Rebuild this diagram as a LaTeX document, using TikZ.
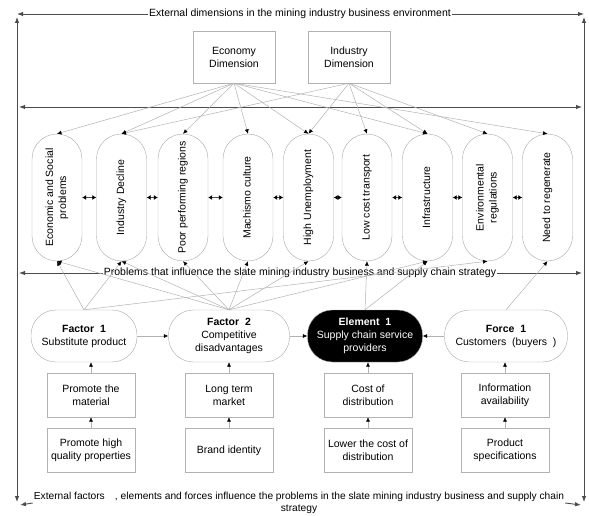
\documentclass[tikz,border=0pt]{standalone}
\usepackage{fontspec}
\setmainfont{Liberation Sans}
\usepackage{tikz}
\usetikzlibrary{arrows.meta,%
                shapes,positioning}

\newcommand{\vtext}[1]{\rotatebox{90}{\begin{tabular}{@{}c@{}}#1\end{tabular}}}

\begin{document}
\begin{tikzpicture}[x=1pt,y=-1pt,
  font=\fontsize{10.5}{13}\selectfont,
  frame/.style={draw=black!70, line width=0.9pt},
  tip/.style={-{Latex[length=6pt,width=4.5pt]}},
  twotip/.style={{Latex[length=6pt,width=4.5pt]}-{Latex[length=6pt,width=4.5pt]}},
  link/.style={draw=black!30, line width=0.5pt, -{Latex[length=4.5pt,width=4pt,color=black]}},
  bothway/.style={draw=black!70, line width=0.8pt, {Latex[length=4pt,width=5pt,color=black]}-{Latex[length=4pt,width=5pt,color=black]}},
  dimbox/.style={draw=black!30, minimum width=82pt, minimum height=52pt, align=center, inner sep=1pt},
  problem/.style={draw=black!35, rounded corners=25pt, minimum width=50pt, minimum height=127pt, inner sep=1pt},
  factor/.style={draw=black!35, rounded corners=25pt, minimum height=52pt, align=center, inner sep=1pt},
  subbox/.style={draw=black!30, minimum width=88pt, minimum height=44pt, align=center, inner sep=1pt}
]
\useasboundingbox (0,0) rectangle (589,516);

\coordinate (tl) at (17,14);
\coordinate (tr) at (584,14);
\coordinate (lt) at (17,17);
\coordinate (lb) at (17,502);
\coordinate (rt) at (584,17);
\coordinate (rb) at (584,502);
\coordinate (ml) at (19,107);
\coordinate (mr) at (582,107);
\coordinate (pl) at (19,273);
\coordinate (pr) at (582,273);
\coordinate (bl) at (20,505);
\coordinate (br) at (581,505);

\node[inner sep=1pt] (toplabel) at (300,14) {External dimensions in the mining industry business environment};
\node[inner sep=1pt] (problabel) at (300,273) {Problems that influence the slate mining industry business and supply chain strategy};
\node[inner sep=1pt, align=center, font=\fontsize{10.2}{12}\selectfont] (botlabel) at (299,503) {External factors\hspace{1em}, elements and forces influence the problems in the slate mining industry business and supply chain\\strategy};

\draw[frame,tip] (toplabel.west) -- (tl);
\draw[frame,tip] (toplabel.east) -- (tr);
\draw[frame,twotip] (lt) -- (lb);
\draw[frame,twotip] (rt) -- (rb);
\draw[frame,twotip] (ml) -- (mr);
\draw[frame,tip] (problabel.west) -- (pl);
\draw[frame,tip] (problabel.east) -- (pr);
\draw[frame,tip] (botlabel.west) -- (bl);
\draw[frame,tip] (botlabel.east) -- (br);

\node[dimbox] (econ) at (234,57) {Economy\\Dimension};
\node[dimbox] (indus) at (349,57) {Industry\\Dimension};

\node[problem] (p1) at (57,197.5) {\vtext{Economic and Social\\problems}};
\node[problem] (p2) at (121.5,197.5) {\vtext{Industry Decline}};
\node[problem] (p3) at (183,197.5) {\vtext{Poor performing regions}};
\node[problem] (p4) at (248,197.5) {\vtext{Machismo culture}};
\node[problem] (p5) at (308.5,197.5) {\vtext{High Unemployment}};
\node[problem] (p6) at (367,197.5) {\vtext{Low cost transport}};
\node[problem] (p7) at (427.5,197.5) {\vtext{Infrastructure}};
\node[problem] (p8) at (487.5,197.5) {\vtext{Environmental\\regulations}};
\node[problem] (p9) at (547.5,197.5) {\vtext{Need to regenerate}};

\draw[bothway] (p1.east) -- (p2.west);
\draw[bothway] (p2.east) -- (p3.west);
\draw[bothway] (p3.east) -- (p4.west);
\draw[bothway] (p4.east) -- (p5.west);
\draw[bothway] (p5.east) -- (p6.west);
\draw[bothway] (p6.east) -- (p7.west);
\draw[bothway] (p7.east) -- (p8.west);
\draw[bothway] (p8.east) -- (p9.west);

\foreach \p in {p1,p2,p3,p4,p5,p7,p9}
  \draw[link] (econ.south) -- (\p.north);
\foreach \p in {p2,p5,p6,p7,p8}
  \draw[link] (indus.south) -- (\p.north);

\node[factor, minimum width=106pt] (f1) at (84,336) {\textbf{Factor\ \ 1}\\Substitute product};
\node[factor, minimum width=121pt] (f2) at (229,336) {\textbf{Factor\ \ 2}\\Competitive\\disadvantages};
\node[factor, minimum width=115pt, fill=black, text=white] (e1) at (365,336) {\textbf{Element\ \ 1}\\Supply chain service\\providers};
\node[factor, minimum width=123pt] (fo1) at (506,336) {\textbf{Force\ \ 1}\\Customers\ \ (buyers\ \ )};

\foreach \p in {p1,p2,p8}
  \draw[link] (f1.north) -- (\p.south);
\foreach \p in {p1,p2,p3,p4,p5,p7}
  \draw[link] (f2.north) -- (\p.south);
\foreach \p in {p6,p7}
  \draw[link] (e1.north) -- (\p.south);
\draw[link] (fo1.north) -- (p9.south);

\draw[link] (f1) -- (f2);
\draw[link] (f2) -- (e1);
\draw[link] (fo1) -- (e1);

\node[subbox] (b1) at (91,395) {Promote the\\material};
\node[subbox] (b2) at (229,395) {Long term\\market};
\node[subbox] (b3) at (368,395) {Cost of\\distribution};
\node[subbox] (b4) at (505,395) {Information\\availability};
\node[subbox] (c1) at (91,450.5) {Promote high\\quality properties};
\node[subbox] (c2) at (229,450.5) {Brand identity};
\node[subbox] (c3) at (368,450.5) {Lower the cost of\\distribution};
\node[subbox] (c4) at (505,450.5) {Product\\specifications};

\draw[link] (b1) -- (b1 |- f1.south);
\draw[link] (b2) -- (b2 |- f2.south);
\draw[link] (b3) -- (b3 |- e1.south);
\draw[link] (b4) -- (b4 |- fo1.south);
\draw[link] (c1) -- (b1);
\draw[link] (c2) -- (b2);
\draw[link] (c3) -- (b3);
\draw[link] (c4) -- (b4);

\end{tikzpicture}
\end{document}
